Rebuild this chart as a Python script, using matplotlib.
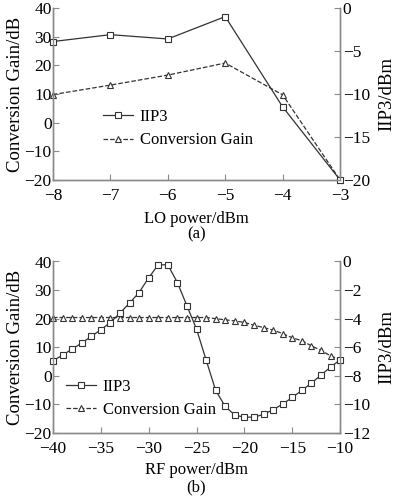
import numpy as np
import matplotlib
matplotlib.use('Agg')
import matplotlib.pyplot as plt

plt.rcParams['font.family'] = ['Liberation Serif', 'DejaVu Serif']
plt.rcParams['font.size'] = 12
plt.rcParams['axes.unicode_minus'] = True

# (a) LO power sweep
lo_power = [-8, -7, -6, -5, -4, -3]
lo_iip3 = [-3.9, -3.1, -3.6, -1.0, -11.5, -20.0]
lo_gain = [9.8, 13.1, 16.6, 20.8, 9.7, -20.0]

# (b) RF power sweep
rf_power = list(range(-40, -9))
rf_iip3 = [-6.95, -6.55, -6.13, -5.71, -5.24, -4.78, -4.27, -3.61, -2.91, -2.17,
           -1.14, -0.23, -0.23, -1.47, -3.10, -4.73, -6.88, -9.02, -10.14, -10.75,
           -10.89, -10.89, -10.70, -10.37, -9.98, -9.51, -9.02, -8.51, -7.95, -7.39,
           -6.88]
rf_gain = [20.4, 20.4, 20.4, 20.4, 20.4, 20.4, 20.4, 20.4, 20.4, 20.4,
           20.4, 20.4, 20.4, 20.4, 20.4, 20.4, 20.4, 20.0, 19.6, 19.2,
           18.7, 17.7, 16.9, 16.0, 14.8, 13.3, 12.3, 10.5, 8.9, 7.0,
           5.6]

spine_col = '#8a8a8a'
line_col = '#333333'

fig = plt.figure(figsize=(3.95, 5.0), dpi=100)


def style(ax, ax2):
    for a in (ax, ax2):
        a.spines['top'].set_visible(False)
        for s in ('left', 'right', 'bottom'):
            a.spines[s].set_color(spine_col)
            a.spines[s].set_linewidth(1.0)
        a.tick_params(direction='in', color=spine_col, length=4, width=0.8,
                      labelsize=12.5)
    ax.tick_params(axis='y', pad=1)
    ax.tick_params(axis='x', pad=6)
    ax2.tick_params(axis='y', pad=2)


def panel(rect, x, iip3, gain, xlim, xticks, r_lim, r_ticks, xlabel, xpad,
          tag, tag_y, ms):
    ax = fig.add_axes(rect)
    ax2 = ax.twinx()
    l2, = ax.plot(x, gain, '--', color=line_col, lw=0.9, marker='^', ms=ms,
                  mfc='white', mec=line_col, mew=0.8, label='Conversion Gain',
                  clip_on=False)
    l1, = ax2.plot(x, iip3, '-', color=line_col, lw=0.9, marker='s', ms=ms,
                   mfc='white', mec=line_col, mew=0.8, label='IIP3',
                   clip_on=False)
    ax.set_xlim(*xlim)
    ax.set_xticks(xticks)
    ax.set_ylim(-20, 40)
    ax.set_yticks(range(-20, 41, 10))
    ax2.set_ylim(*r_lim)
    ax2.set_yticks(r_ticks)
    ax.set_ylabel('Conversion Gain/dB', fontsize=13.5, labelpad=0)
    ax2.set_ylabel('IIP3/dBm', fontsize=13.5, labelpad=6)
    ax.set_xlabel(xlabel, labelpad=xpad)
    ax.text(0.5, tag_y, tag, transform=ax.transAxes, ha='center', va='center')
    style(ax, ax2)
    return ax, ax2, l1, l2


ax, ax2, l1, l2 = panel([0.134, 0.64, 0.727, 0.344], lo_power, lo_iip3, lo_gain,
                        (-8, -3), range(-8, -2), (-20, 0), range(-20, 1, 5),
                        'LO power/dBm', 5, '(a)', -0.315, 5)
ax.legend(handles=[l1, l2], loc='upper left', bbox_to_anchor=(0.174, 0.413),
          frameon=False, handlelength=1.8, handletextpad=0.4, labelspacing=0.45,
          borderpad=0, borderaxespad=0)

bx, bx2, m1, m2 = panel([0.134, 0.134, 0.727, 0.343], rf_power, rf_iip3, rf_gain,
                        (-40, -10), range(-40, -9, 5), (-12, 0), range(-12, 1, 2),
                        'RF power/dBm', 3, '(b)', -0.32, 4)
bx.legend(handles=[m1, m2], loc='upper left', bbox_to_anchor=(0.045, 0.316),
          frameon=False, handlelength=1.8, handletextpad=0.4, labelspacing=0.45,
          borderpad=0, borderaxespad=0)

plt.savefig('out.png', dpi=100)
